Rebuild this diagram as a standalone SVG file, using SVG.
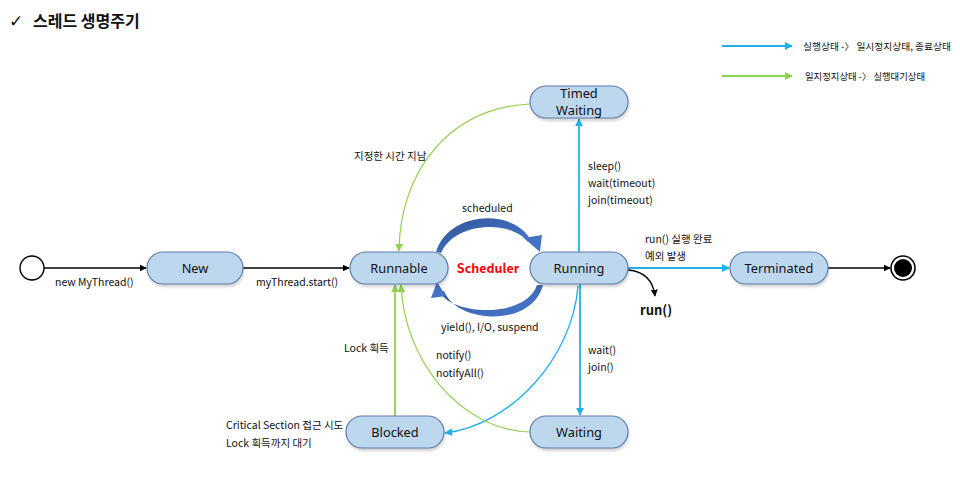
<svg xmlns="http://www.w3.org/2000/svg" width="960" height="477" viewBox="0 0 960 477">
<style>
text{font-family:"Noto Sans CJK KR","Noto Sans",sans-serif;fill:#111}
.lbl{font-size:10.5px}
.node{font-size:12.8px;text-anchor:middle;font-family:"Noto Sans",sans-serif}
.pill{fill:#BDD7EE;stroke:#5E7FAD;stroke-width:1.2}
.shadow{fill:#000;opacity:.18}
.blk{stroke:#000;stroke-width:1.6;fill:none}
.blue{stroke:#1FB0EC;stroke-width:1.8;fill:none}
.green{stroke:#92D050;stroke-width:1.2;fill:none}
.greenT{stroke:#92D050;stroke-width:1.8;fill:none}
</style>
<defs>
<marker id="ak" viewBox="0 0 10 10" refX="9" refY="5" markerWidth="7" markerHeight="7" markerUnits="userSpaceOnUse" orient="auto"><path d="M0,0L10,5L0,10z" fill="#000"/></marker>
<marker id="ab" viewBox="0 0 10 10" refX="9" refY="5" markerWidth="8" markerHeight="8" markerUnits="userSpaceOnUse" orient="auto"><path d="M0,0L10,5L0,10z" fill="#1FB0EC"/></marker>
<marker id="ag" viewBox="0 0 10 10" refX="9" refY="5" markerWidth="8" markerHeight="8" markerUnits="userSpaceOnUse" orient="auto"><path d="M0,0L10,5L0,10z" fill="#92D050"/></marker>
<linearGradient id="sg" x1="0" y1="0" x2="1" y2="1"><stop offset="0" stop-color="#2F5597"/><stop offset="1" stop-color="#4A7BD0"/></linearGradient>
<filter id="blur" x="-10%" y="-20%" width="120%" height="150%"><feGaussianBlur stdDeviation="1.5"/></filter>
</defs>

<g id="title">
<text x="9" y="27" style="font-size:17px;font-weight:bold;font-family:'DejaVu Sans',sans-serif">✓</text>
<text x="33" y="27" style="font-size:16px;font-weight:bold">스레드 생명주기</text>
</g>

<g id="legend">
<line x1="722" y1="46" x2="792" y2="46" class="blue" marker-end="url(#ab)"/>
<text x="803" y="50" style="font-size:9.5px" textLength="148" lengthAdjust="spacingAndGlyphs">실행상태 -〉 일시정지상태, 종료상태</text>
<line x1="722" y1="76" x2="792" y2="76" class="greenT" marker-end="url(#ag)"/>
<text x="805" y="80" style="font-size:9.5px" textLength="120" lengthAdjust="spacingAndGlyphs">일지정지상태 -〉 실행대기상태</text>
</g>

<g id="connectors">
<line x1="44" y1="268" x2="146" y2="268" class="blk" marker-end="url(#ak)"/>
<line x1="243" y1="268" x2="349" y2="268" class="blk" marker-end="url(#ak)"/>
<line x1="828" y1="268" x2="890" y2="268" class="blk" marker-end="url(#ak)"/>
<path d="M628,270 Q652,272 655,296" class="blk" style="stroke-width:1.3" marker-end="url(#ak)"/>
<line x1="628" y1="268" x2="729" y2="268" class="blue" marker-end="url(#ab)"/>
<line x1="579" y1="252" x2="579" y2="119" class="blue" marker-end="url(#ab)"/>
<line x1="580" y1="284" x2="580" y2="415" class="blue" marker-end="url(#ab)"/>
<path d="M578,286 C572,360 510,425 445,433" class="blue" style="stroke-width:1.3" marker-end="url(#ab)"/>
<path d="M530,104 C450,108 400,170 399,251" class="green" marker-end="url(#ag)"/>
<path d="M530,432 C460,430 404,360 401,285" class="green" marker-end="url(#ag)"/>
<line x1="395" y1="416" x2="395" y2="285" class="greenT" marker-end="url(#ag)"/>
<path d="M436,252 C448,212 512,207 531,240 L528,242 C510,219 454,222 441,253 Z" fill="url(#sg)"/>
<path d="M524,238 L542,235 L540,252 Z" fill="#4472C4"/>
<path d="M543,285 C532,328 457,324 444,291 L440,293 C455,316 526,318 537,285 Z" fill="url(#sg)"/>
<path d="M446,296 L437,282 L431,298 Z" fill="#4472C4"/>
</g>

<g id="start"><circle cx="32" cy="268" r="12" fill="#fff" stroke="#000" stroke-width="1.4"/></g>
<g id="end"><circle cx="903" cy="268" r="12" fill="#fff" stroke="#000" stroke-width="1.6"/><circle cx="903" cy="268" r="9" fill="#000"/></g>

<g id="New"><rect x="148" y="255" width="96" height="32" rx="16" class="shadow" filter="url(#blur)"/><rect x="147" y="252" width="96" height="32" rx="16" class="pill"/><text x="195" y="273" class="node">New</text></g>
<g id="Runnable"><rect x="351" y="255" width="98" height="32" rx="16" class="shadow" filter="url(#blur)"/><rect x="350" y="252" width="98" height="32" rx="16" class="pill"/><text x="399" y="273" class="node">Runnable</text></g>
<g id="Running"><rect x="531" y="255" width="98" height="32" rx="16" class="shadow" filter="url(#blur)"/><rect x="530" y="252" width="98" height="32" rx="16" class="pill"/><text x="579" y="273" class="node">Running</text></g>
<g id="Terminated"><rect x="731" y="255" width="98" height="32" rx="16" class="shadow" filter="url(#blur)"/><rect x="730" y="252" width="98" height="32" rx="16" class="pill"/><text x="779" y="273" class="node">Terminated</text></g>
<g id="TimedWaiting"><rect x="531" y="89" width="98" height="32" rx="16" class="shadow" filter="url(#blur)"/><rect x="530" y="86" width="98" height="32" rx="16" class="pill"/><text x="579" y="98" class="node">Timed</text><text x="579" y="115" class="node">Waiting</text></g>
<g id="Blocked"><rect x="347" y="419" width="98" height="32" rx="16" class="shadow" filter="url(#blur)"/><rect x="346" y="416" width="98" height="32" rx="16" class="pill"/><text x="395" y="437" class="node">Blocked</text></g>
<g id="Waiting"><rect x="531" y="419" width="98" height="32" rx="16" class="shadow" filter="url(#blur)"/><rect x="530" y="416" width="98" height="32" rx="16" class="pill"/><text x="579" y="437" class="node">Waiting</text></g>

<g id="labels">
<text x="55" y="286" class="lbl">new MyThread()</text>
<text x="256" y="286" class="lbl">myThread.start()</text>
<text x="354" y="160" class="lbl">지정한 시간 지남</text>
<text x="462" y="212" class="lbl">scheduled</text>
<text x="488" y="273" style="font-size:12.5px;font-weight:bold;fill:#FF0000;text-anchor:middle">Scheduler</text>
<text x="588" y="170" class="lbl">sleep()</text>
<text x="588" y="187" class="lbl">wait(timeout)</text>
<text x="588" y="204" class="lbl">join(timeout)</text>
<text x="645" y="243" class="lbl">run() 실행 완료</text>
<text x="645" y="260" class="lbl">예외 발생</text>
<text x="640" y="315" style="font-size:13px;font-weight:bold">run()</text>
<text x="441" y="331" class="lbl">yield(), I/O, suspend</text>
<text x="344" y="352" class="lbl">Lock 획득</text>
<text x="436" y="359" class="lbl">notify()</text>
<text x="436" y="377" class="lbl">notifyAll()</text>
<text x="588" y="354" class="lbl">wait()</text>
<text x="588" y="371" class="lbl">join()</text>
<text x="226" y="429" class="lbl">Critical Section 접근 시도</text>
<text x="226" y="447" class="lbl">Lock 획득까지 대기</text>
</g>
</svg>
